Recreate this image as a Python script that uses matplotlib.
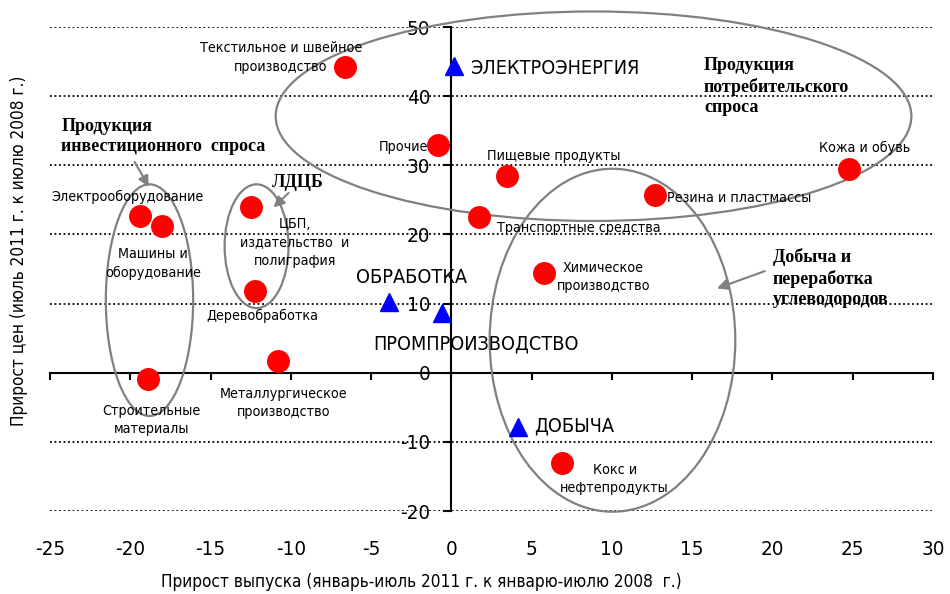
import matplotlib
matplotlib.use("Agg")
import matplotlib.pyplot as plt
from matplotlib.patches import Ellipse
from matplotlib import font_manager

# Data: industries (red circles) and aggregates (blue triangles)
red_labels = ["Текстильное и швейное\nпроизводство", "Прочие", "Пищевые продукты",
              "Транспортные средства", "Резина и пластмассы", "Кожа и обувь",
              "Химическое\nпроизводство", "Кокс и\nнефтепродукты", "Электрооборудование",
              "Машины и\nоборудование", "ЦБП,\nиздательство  и\nполиграфия", "Деревобработка",
              "Металлургическое\nпроизводство", "Строительные\nматериалы"]
red_x = [-6.6, -0.8, 3.5, 1.7, 12.7, 24.8, 5.8, 6.9, -19.4, -18.0, -12.5, -12.2, -10.8, -18.9]
red_y = [44.2, 32.9, 28.5, 22.5, 25.7, 29.4, 14.4, -13.0, 22.7, 21.2, 23.9, 11.8, 1.7, -0.9]

blue_labels = ["ЭЛЕКТРОЭНЕРГИЯ", "ОБРАБОТКА", "ПРОМПРОИЗВОДСТВО", "ДОБЫЧА"]
blue_x = [0.15, -3.9, -0.55, 4.15]
blue_y = [44.4, 10.25, 8.6, -7.9]

x_ticks = [-25, -20, -15, -10, -5, 0, 5, 10, 15, 20, 25, 30]
y_ticks = [-20, -10, 0, 10, 20, 30, 40, 50]

# label offsets in points and alignment
red_offsets = [(-46.6, 7), (-7.7, -1.4), (-14.6, 14.2), (13, -7.9), (8.6, -2.2), (-21.6, 15.3),
               (42.3, -2.7), (37.9, -11.7), (-8.9, 13.5), (-6.5, -26.9), (31.7, -25),
               (5, -17.5), (4, -30.2), (2.5, -29.5)]
red_ha = ["center", "right", "left", "left", "left", "left", "center", "center", "center",
          "center", "center", "center", "center", "center"]
blue_offsets = [(11.7, -1.7), (16.6, 17.8), (24.3, -22.1), (12, 1.2)]
blue_ha = ["left", "center", "center", "left"]

# narrow sans font: pick what is installed
names = {(f.name, f.stretch) for f in font_manager.fontManager.ttflist}
if any(n == "Liberation Sans Narrow" for n, s in names):
    sans = dict(family="Liberation Sans Narrow")
    k = 1.0
elif ("DejaVu Sans", "condensed") in names or ("DejaVu Sans", 400 - 100) in names:
    sans = dict(family="DejaVu Sans", stretch="condensed")
    k = 0.95
else:
    sans = dict(family="Liberation Sans")
    k = 0.86
serif = ["Liberation Serif", "DejaVu Serif"]
gray = "#808080"

fig = plt.figure(figsize=(9.5, 5.94), dpi=100)
ax = fig.add_axes([0.0526, 0.1397, 0.9294, 0.8148])

ax.set_xlim(-25, 30)
ax.set_ylim(-20, 50)

ax.plot(red_x, red_y, "o", color="#ff0000", markersize=15.5, zorder=4)
ax.plot(blue_x, blue_y, "^", color="#0000ff", markersize=13.5, zorder=4)

for lab, x, y, off, ha in zip(red_labels, red_x, red_y, red_offsets, red_ha):
    ax.annotate(lab, (x, y), xytext=off, textcoords="offset points", ha=ha, va="center",
                multialignment="center", fontsize=10.8 * k, linespacing=1.4, zorder=5, **sans)
for lab, x, y, off, ha in zip(blue_labels, blue_x, blue_y, blue_offsets, blue_ha):
    ax.annotate(lab, (x, y), xytext=off, textcoords="offset points", ha=ha, va="center",
                fontsize=15 * k, zorder=5, **sans)

# group ellipses
ellipses = [((8.86, 37.1), 39.6, 30.3), ((-18.8, 10.5), 5.44, 33.5),
            ((-12.13, 18.3), 3.98, 17.9), ((10.04, 4.7), 15.3, 49.6)]
for c, w, h in ellipses:
    ax.add_patch(Ellipse(c, w, h, fill=False, edgecolor=gray, lw=1.6, clip_on=False, zorder=3))

# group titles with arrows
ax.text(-24.3, 34.2, "Продукция\nинвестиционного  спроса", fontsize=13, family=serif,
        weight="bold", ha="left", va="center", linespacing=1.2)
ax.text(-11.2, 27.5, "ЛДЦБ", fontsize=13, family=serif, weight="bold", ha="left", va="center")
ax.text(15.74, 41.4, "Продукция\nпотребительского\nспроса", fontsize=13, family=serif,
        weight="bold", ha="left", va="center", linespacing=1.27)
ax.text(20.04, 13.7, "Добыча и\nпереработка\nуглеводородов", fontsize=13, family=serif,
        weight="bold", ha="left", va="center", linespacing=1.27)

arrow = dict(arrowstyle="-|>", color=gray, lw=1.5, mutation_scale=16, shrinkA=0, shrinkB=0)
ax.annotate("", xy=(-18.84, 26.9), xytext=(-19.73, 30.5), arrowprops=arrow)
ax.annotate("", xy=(-11.07, 23.9), xytext=(-10.14, 26.0), arrowprops=arrow)
ax.annotate("", xy=(16.55, 12.2), xytext=(19.53, 14.7), arrowprops=arrow)

# axes through the origin
for s in ["top", "right"]:
    ax.spines[s].set_visible(False)
ax.spines["left"].set_position(("data", 0))
ax.spines["bottom"].set_position(("data", 0))
ax.spines["left"].set_linewidth(1.5)
ax.spines["bottom"].set_linewidth(1.5)

ax.set_xticks(x_ticks)
ax.set_xticklabels([])
ax.tick_params(axis="x", direction="out", length=5, width=1.5)
for t in x_ticks:
    ax.text(t, -0.08, str(t), transform=ax.get_xaxis_transform(), ha="center", va="center",
            fontsize=15.5 * k, **sans)

ax.set_yticks(y_ticks)
ax.set_yticklabels([str(t) for t in y_ticks])
for lbl in ax.get_yticklabels():
    lbl.set_fontproperties(font_manager.FontProperties(size=15.5 * k, **sans))
ax.tick_params(axis="y", direction="out", length=6, width=1.5, pad=9)
ax.yaxis.grid(True, linestyle=(0, (1, 1.5)), color="black", lw=1.3)
ax.set_axisbelow(True)

fig.text(0.443, 0.021, "Прирост выпуска (январь-июль 2011 г. к январю-июлю 2008  г.)",
         ha="center", va="center", fontsize=13 * k, **sans)
fig.text(0.02, 0.577, "Прирост цен (июль 2011 г. к июлю 2008 г.)", rotation=90,
         ha="center", va="center", fontsize=13 * k, **sans)

plt.savefig("out.png", dpi=100)
